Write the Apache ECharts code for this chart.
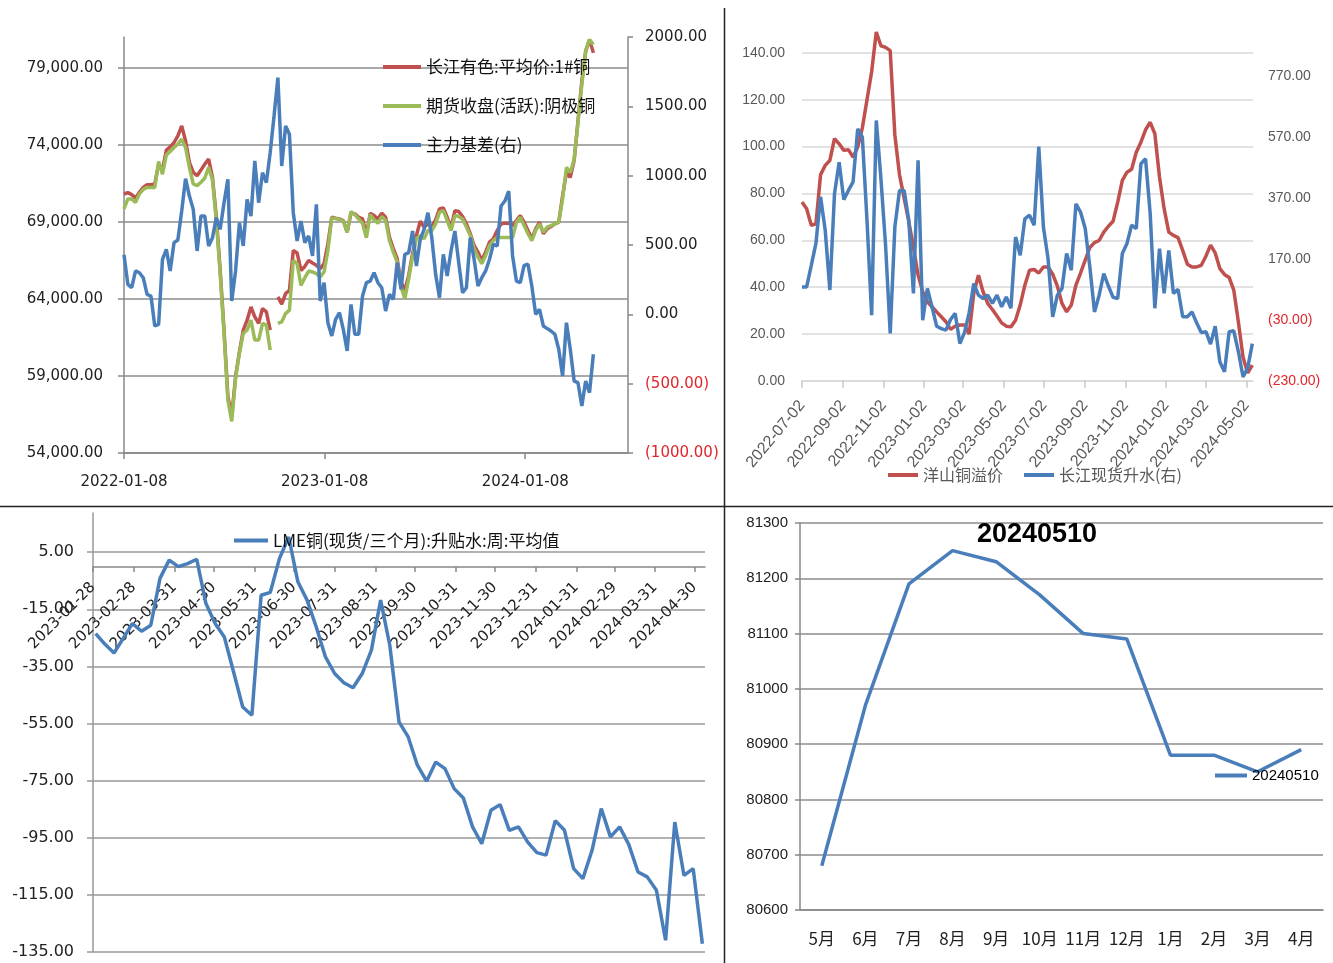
<!DOCTYPE html>
<html>
<head>
<meta charset="utf-8">
<script src="https://cdn.jsdelivr.net/npm/echarts@6/dist/echarts.min.js"></script>
<style>
  html, body { margin: 0; padding: 0; background: #fff; }
  #chart { width: 1333px; height: 963px; }
</style>
</head>
<body>
<div id="chart"></div>
<script>
// weekly dates helper (categories only)
function ymd(d) {
  return d.getFullYear() + '-' + String(d.getMonth() + 1).padStart(2, '0') + '-' + String(d.getDate()).padStart(2, '0');
}
function weeks(y, m, d, n) {
  var out = [];
  for (var i = 0; i < n; i++) out.push(ymd(new Date(y, m - 1, d + 7 * i)));
  return out;
}
function ts(s) {
  var p = s.split('-');
  return new Date(+p[0], +p[1] - 1, +p[2]).getTime();
}

// ---- top left: 长江有色 / 期货收盘 / 主力基差 ----
var TL_DATES = weeks(2022, 1, 8, 123);
var TL_TICKS = ['2022-01-08', '2023-01-08', '2024-01-08'];
var TL_RED = [
  70810, 70900, 70770, 70550, 70920, 71240, 71410, 71410, 71460, 72750,
  72360, 73660, 73870, 74150, 74580, 75230, 74260, 72860, 72210, 72000,
  72360, 72750, 73070, 71890, 69300, 65850, 61980, 57670, 56370, 58960,
  60570, 61980, 62620, 63480, 62840, 62410, 63380, 63160, 61980, null,
  64130, 63660, 64350, 64560, 67150, 66980, 65850, 66110, 66500, 66330,
  66180, 65960, 66290, 67580, 69300, 69240, 69190, 69090, 68330, 69560,
  69520, 69300, 69190, 68180, 69560, 69410, 69190, 69560, 69300, 68010,
  67260, 66610, 65100, 64560, 65530, 66930, 68120, 69040, 68660, 68870,
  68700, 69130, 69840, 69910, 69300, 68610, 69730, 69670, 69350, 68870,
  68230, 67470, 67040, 66500, 67040, 67690, 67900, 68440, 68870, 68910,
  68910, 68760, 69090, 69410, 68980, 68440, 67900, 68550, 68980, 68230,
  68550, 68700, 68870, 68980, 70700, 72210, 71890, 72970, 75550, 78140,
  80080, 80830, 79970
];
var TL_GREEN = [
  69840, 70490, 70490, 70270, 70810, 71110, 71240, 71240, 71240, 72920,
  72100, 73350, 73570, 73830, 74040, 74370, 73830, 72540, 71460, 71350,
  71570, 71850, 72540, 71720, 69090, 65640, 61760, 57450, 56050, 58850,
  60470, 61760, 61980, 62620, 61330, 61330, 62410, 62300, 60680, null,
  62410, 62510, 63050, 63270, 66500, 66290, 64880, 65380, 65810, 65750,
  65640, 65420, 65750, 67150, 69260, 69220, 69170, 69040, 68330, 69670,
  69470, 69190, 68910, 67970, 69470, 69130, 68910, 69350, 69090, 67790,
  67040, 66390, 64780, 64020, 65320, 66720, 67900, 68120, 67900, 68440,
  68440, 68870, 69630, 69730, 69090, 68440, 69410, 69350, 69190, 68660,
  68120, 67260, 66720, 66290, 66820, 67470, 67790, 67990, 67990, 67990,
  67990, 67990, 68980, 69300, 68760, 68230, 67790, 68440, 68870, 68330,
  68660, 68760, 68870, 68980, 70490, 72540, 72210, 73070, 75440, 77920,
  80080, 80830, 80510
];
var TL_BASIS = [
  430, 216, 192, 313, 300, 264, 144, 132, -84, -72,
  397, 469, 313, 517, 536, 745, 978, 853, 757, 457,
  709, 709, 493, 553, 697, 613, 805, 974, 96, 313,
  661, 493, 829, 709, 1106, 805, 1022, 950, 1166, 1430,
  1707, 1070, 1358, 1298, 733, 529, 673, 517, 565, 421,
  793, 96, 228, -60, -156, -36, 12, -108, -264, 72,
  -144, -144, 132, 228, 240, 300, 228, 192, 24, 144,
  108, 373, 180, 433, 445, 601, 349, 541, 613, 733,
  553, 288, 120, 433, 276, 457, 601, 373, 156, 192,
  553, 397, 204, 264, 313, 397, 505, 493, 781, 817,
  889, 421, 240, 228, 353, 361, 204, 0, 36, -84,
  -103, -120, -144, -252, -445, -60, -252, -481, -493, -661,
  -481, -565, -288
];
var TL_LEFT_TICKS = [54000, 59000, 64000, 69000, 74000, 79000];

// ---- top right: 洋山铜溢价 / 长江现货升水 ----
var TR_DATES = weeks(2022, 7, 2, 98);
var TR_TICKS = ['2022-07-02', '2022-09-02', '2022-11-02', '2023-01-02', '2023-03-02', '2023-05-02',
  '2023-07-02', '2023-09-02', '2023-11-02', '2024-01-02', '2024-03-02', '2024-05-02'];
var TR_YANGSHAN = [
  76.3, 73.5, 66.4, 67, 88, 92, 94.1, 103.4, 101.2, 98.4,
  98.7, 95.5, 99.8, 108, 120, 132, 149, 143.1, 142.4, 141,
  105, 88, 78, 68, 57, 45.1, 38, 33.7, 31.6, 29.4,
  27.3, 25.2, 21.9, 23.3, 23.8, 23.8, 19.9, 37.3, 45.1, 38,
  33, 30.4, 27.6, 24.7, 23.3, 23, 25.8, 32.3, 40.8, 47.2,
  47.5, 46, 48.6, 48.6, 45.5, 40.4, 33, 29.4, 32.3, 40.8,
  46, 51.5, 56.9, 59, 59.9, 63.5, 66, 68.1, 76.3, 85.6,
  89.1, 90.3, 97.6, 101.9, 107.2, 110.4, 105.5, 87, 73.5, 63.5,
  62.1, 61.1, 55.7, 49.8, 48.6, 48.6, 49.3, 53.2, 57.9, 54.6,
  47.9, 45.4, 44.1, 38.7, 25, 10, 3.3, 6.7
];
var TR_SPOT = [
  78, 78, 149, 221, 374, 264, 68, 384, 488, 365,
  395, 423, 597, 570, 297, -15, 625, 434, 215, -75,
  275, 395, 395, 297, 57, 494, -31, 73, 13, -51,
  -59, -64, -29, -9, -108, -72, -7, 89, 51, 40,
  51, 24, 51, 13, 45, 8, 242, 182, 302, 314,
  281, 539, 275, 171, -20, 51, 73, 188, 133, 351,
  324, 270, 144, -4, 51, 122, 81, 44, 40, 188,
  221, 281, 270, 483, 499, 319, 8, 204, 57, 198,
  57, 70, -20, -20, -4, -40, -72, -69, -110, -51,
  -168, -201, -69, -66, -135, -218, -188, -108
];
var TR_RIGHT_TICKS = [-230, -30, 170, 370, 570, 770];

// ---- bottom left: LME 升贴水 ----
var BL_DATES = weeks(2023, 1, 30, 67);
var BL_TICKS = ['2023-01-28', '2023-02-28', '2023-03-31', '2023-04-30', '2023-05-31', '2023-06-30',
  '2023-07-31', '2023-08-31', '2023-09-30', '2023-10-31', '2023-11-30', '2023-12-31',
  '2024-01-31', '2024-02-29', '2024-03-31', '2024-04-30'];
var BL_LME = [
  -23.5, -27.2, -30.3, -25.2, -20, -22.7, -20.6, -4.2, 2.2, -0.1,
  1, 2.5, -13, -20, -24.7, -36.9, -49.2, -52.1, -10.1, -9.1,
  2.8, 10.3, -5.4, -11.8, -21.2, -31.7, -37.5, -40.7, -42.5, -37.5,
  -29.3, -11.8, -27.6, -54.4, -59.7, -69.6, -75.2, -68.5, -70.8, -77.8,
  -81.1, -91.2, -97.1, -85.4, -83.4, -92.4, -91.2, -96.5, -100.2, -101.1,
  -89, -92.4, -105.8, -109.3, -99.4, -84.8, -94.7, -91.2, -97.4, -107,
  -108.7, -113.4, -130.9, -89.5, -108.2, -105.8, -132.1
];
var BL_Y_TICKS = [-135, -115, -95, -75, -55, -35, -15, 5];

// ---- bottom right: 20240510 curve ----
var BR_MONTHS = ['5月', '6月', '7月', '8月', '9月', '10月', '11月', '12月', '1月', '2月', '3月', '4月'];
var BR_VALUES = [80680, 80970, 81190, 81250, 81230, 81170, 81100, 81090, 80880, 80880, 80850, 80890];

var RED = '#C0504D', GREEN = '#9BBB59', BLUE = '#4A7EBB';
var CJK = '"Noto Sans CJK SC", sans-serif';
var SANS = '"Liberation Sans", Arial, sans-serif';

function pair(dates, vals) {
  return vals.map(function (v, i) { return [ts(dates[i]), v]; });
}
function dateLabel(v) { return ymd(new Date(Number(v))); }
function acct(v) {
  v = Number(v);
  return v < 0 ? '(' + Math.abs(v).toFixed(2) + ')' : v.toFixed(2);
}
function acctColor(pos) {
  return function (v) { return Number(v) < 0 ? '#E0262B' : pos; };
}

var myChart = echarts.init(document.getElementById('chart'));

var option = {
  animation: false,
  title: {
    text: '20240510',
    left: 977, top: 521, padding: 0,
    textStyle: { fontFamily: SANS, fontSize: 27, fontWeight: 'bold', color: '#000' }
  },
  legend: [
    {
      orient: 'vertical', left: 383, top: 57, padding: 0,
      icon: 'rect', itemWidth: 38, itemHeight: 4, itemGap: 19,
      textStyle: { fontFamily: CJK, fontSize: 17, color: '#111', lineHeight: 20 },
      data: ['长江有色:平均价:1#铜', '期货收盘(活跃):阴极铜', '主力基差(右)']
    },
    {
      orient: 'horizontal', left: 888, top: 467, padding: 0,
      icon: 'rect', itemWidth: 30, itemHeight: 4, itemGap: 21,
      textStyle: { fontFamily: CJK, fontSize: 16, color: '#595959' },
      data: ['洋山铜溢价', '长江现货升水(右)']
    },
    {
      left: 234, top: 532, padding: 0,
      icon: 'rect', itemWidth: 34, itemHeight: 4,
      textStyle: { fontFamily: CJK, fontSize: 17, color: '#111' },
      data: ['LME铜(现货/三个月):升贴水:周:平均值']
    },
    {
      left: 1215, top: 768, padding: 0,
      icon: 'rect', itemWidth: 32, itemHeight: 4,
      textStyle: { fontFamily: SANS, fontSize: 15, color: '#000' },
      data: ['20240510 ']
    }
  ],
  grid: [
    { left: 124, top: 37, width: 504, height: 416, outerBoundsMode: 'none' },
    { left: 802, top: 53, width: 451, height: 327.7, outerBoundsMode: 'none' },
    { left: 93, top: 513, width: 612, height: 439, outerBoundsMode: 'none' },
    { left: 800, top: 523, width: 523, height: 387, outerBoundsMode: 'none' }
  ],
  xAxis: [
    {
      gridIndex: 0, type: 'value',
      min: ts('2022-01-08'), max: ts('2024-07-13'),
      axisLine: { onZero: false, lineStyle: { color: '#888', width: 1.5 } },
      axisTick: { length: 6, lineStyle: { color: '#888', width: 1.5 }, customValues: TL_TICKS.map(ts) },
      axisLabel: {
        customValues: TL_TICKS.map(ts), formatter: dateLabel, margin: 22,
        fontFamily: 'DejaVu Sans', fontSize: 15, color: '#222'
      },
      splitLine: { show: false }
    },
    {
      gridIndex: 1, type: 'value',
      min: ts('2022-07-02'), max: ts('2024-05-12'),
      axisLine: { onZero: false, lineStyle: { color: '#D9D9D9', width: 1.5 } },
      axisTick: { length: 7, lineStyle: { color: '#C8C8C8', width: 1.5 }, customValues: TR_TICKS.map(ts) },
      axisLabel: {
        customValues: TR_TICKS.map(ts), formatter: dateLabel, rotate: 50, margin: 22,
        fontFamily: SANS, fontSize: 16, color: '#595959'
      },
      splitLine: { show: false }
    },
    {
      gridIndex: 2, type: 'value', position: 'bottom', offset: -385,
      min: ts('2023-01-28'), max: ts('2024-05-08'),
      axisLine: { onZero: false, lineStyle: { color: '#888', width: 1.5 } },
      axisTick: { length: 5, lineStyle: { color: '#888', width: 1.5 }, customValues: BL_TICKS.map(ts) },
      axisLabel: {
        customValues: BL_TICKS.map(ts), formatter: dateLabel, rotate: 45, margin: 18,
        fontFamily: 'DejaVu Sans', fontSize: 15, color: '#222'
      },
      splitLine: { show: false }
    },
    {
      gridIndex: 3, type: 'category', data: BR_MONTHS, boundaryGap: true,
      axisLine: { lineStyle: { color: '#888', width: 1.5 } },
      axisTick: { length: 8, lineStyle: { color: '#888', width: 1.5 } },
      axisLabel: { interval: 0, margin: 20, fontFamily: CJK, fontSize: 17, color: '#222' },
      splitLine: { show: false }
    }
  ],
  yAxis: [
    {
      gridIndex: 0, type: 'value', min: 54000, max: 81000,
      axisLine: { show: true, lineStyle: { color: '#888', width: 1.5 } },
      axisTick: { show: true, length: 6, lineStyle: { color: '#888', width: 1.5 }, customValues: TL_LEFT_TICKS },
      axisLabel: {
        customValues: TL_LEFT_TICKS, margin: 21,
        formatter: function (v) { return Number(v).toLocaleString('en-US', { minimumFractionDigits: 2, maximumFractionDigits: 2 }); },
        fontFamily: 'DejaVu Sans', fontSize: 15, color: '#222'
      },
      splitLine: { show: true, lineStyle: { color: '#8C8C8C', width: 1.5 } }
    },
    {
      gridIndex: 0, type: 'value', position: 'right', min: -1000, max: 2000, interval: 500,
      axisLine: { show: true, lineStyle: { color: '#888', width: 1.5 } },
      axisTick: { show: true, length: 5, lineStyle: { color: '#888', width: 1.5 } },
      axisLabel: {
        margin: 17, formatter: acct, color: acctColor('#222'),
        fontFamily: 'DejaVu Sans', fontSize: 15
      },
      splitLine: { show: false }
    },
    {
      gridIndex: 1, type: 'value', min: 0, max: 140, interval: 20,
      axisLine: { show: false }, axisTick: { show: false },
      axisLabel: {
        margin: 17, formatter: function (v) { return Number(v).toFixed(2); },
        fontFamily: SANS, fontSize: 14, color: '#595959'
      },
      splitLine: { show: true, lineStyle: { color: '#D9D9D9', width: 1.5 } }
    },
    {
      gridIndex: 1, type: 'value', position: 'right', min: -230, max: 846.6,
      axisLine: { show: false },
      axisTick: { show: false, customValues: TR_RIGHT_TICKS },
      axisLabel: {
        customValues: TR_RIGHT_TICKS, margin: 15, formatter: acct, color: acctColor('#595959'),
        fontFamily: SANS, fontSize: 14
      },
      splitLine: { show: false }
    },
    {
      gridIndex: 2, type: 'value', min: -135, max: 18.7,
      axisLine: { show: true, lineStyle: { color: '#999', width: 1.5 } },
      axisTick: { show: true, length: 6, lineStyle: { color: '#999', width: 1.5 }, customValues: BL_Y_TICKS },
      axisLabel: {
        customValues: BL_Y_TICKS, margin: 19,
        formatter: function (v) { return Number(v).toFixed(2); },
        fontFamily: 'DejaVu Sans', fontSize: 16, color: '#222'
      },
      splitLine: { show: true, lineStyle: { color: '#999', width: 1.5 } }
    },
    {
      gridIndex: 3, type: 'value', min: 80600, max: 81300, interval: 100,
      axisLine: { show: true, lineStyle: { color: '#888', width: 1.5 } },
      axisTick: { show: true, length: 5, lineStyle: { color: '#888', width: 1.5 } },
      axisLabel: {
        margin: 12, formatter: function (v) { return String(v); },
        fontFamily: SANS, fontSize: 15, color: '#222'
      },
      splitLine: { show: true, lineStyle: { color: '#8C8C8C', width: 1.5 } }
    }
  ],
  series: [
    {
      name: '长江有色:平均价:1#铜', type: 'line', xAxisIndex: 0, yAxisIndex: 0,
      data: pair(TL_DATES, TL_RED), showSymbol: false, color: RED,
      lineStyle: { color: RED, width: 3.5 }
    },
    {
      name: '期货收盘(活跃):阴极铜', type: 'line', xAxisIndex: 0, yAxisIndex: 0,
      data: pair(TL_DATES, TL_GREEN), showSymbol: false, color: GREEN,
      lineStyle: { color: GREEN, width: 3.5 }
    },
    {
      name: '主力基差(右)', type: 'line', xAxisIndex: 0, yAxisIndex: 1,
      data: pair(TL_DATES, TL_BASIS), showSymbol: false, color: BLUE,
      lineStyle: { color: BLUE, width: 3.5 }
    },
    {
      name: '洋山铜溢价', type: 'line', xAxisIndex: 1, yAxisIndex: 2, clip: false,
      data: pair(TR_DATES, TR_YANGSHAN), showSymbol: false, color: RED,
      lineStyle: { color: RED, width: 3.5 }
    },
    {
      name: '长江现货升水(右)', type: 'line', xAxisIndex: 1, yAxisIndex: 3,
      data: pair(TR_DATES, TR_SPOT), showSymbol: false, color: BLUE,
      lineStyle: { color: BLUE, width: 3.5 }
    },
    {
      name: 'LME铜(现货/三个月):升贴水:周:平均值', type: 'line', xAxisIndex: 2, yAxisIndex: 4,
      data: pair(BL_DATES, BL_LME), showSymbol: false, color: BLUE,
      lineStyle: { color: BLUE, width: 3.5 }
    },
    {
      name: '20240510 ', type: 'line', xAxisIndex: 3, yAxisIndex: 5,
      data: BR_VALUES, showSymbol: false, color: BLUE,
      lineStyle: { color: BLUE, width: 3.5 }
    }
  ],
  graphic: [
    { type: 'line', shape: { x1: 724.5, y1: 8, x2: 724.5, y2: 963 }, style: { stroke: '#222', lineWidth: 1.5 } },
    { type: 'line', shape: { x1: 0, y1: 506.5, x2: 1333, y2: 506.5 }, style: { stroke: '#222', lineWidth: 1.5 } }
  ]
};

myChart.setOption(option);
window.addEventListener('resize', function () { myChart.resize(); });
</script>
</body>
</html>
